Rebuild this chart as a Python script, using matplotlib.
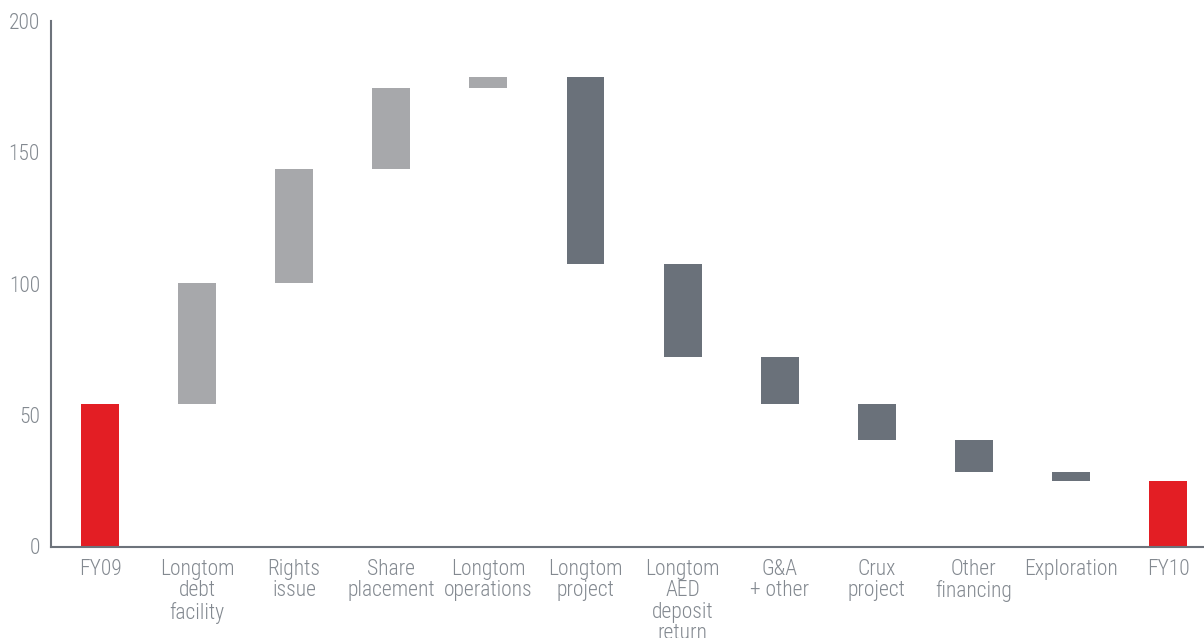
import matplotlib
matplotlib.use("Agg")
import matplotlib.pyplot as plt
from matplotlib import font_manager as fm
import numpy as np

categories = ["FY09", "Longtom\ndebt\nfacility", "Rights\nissue", "Share\nplacement",
              "Longtom\noperations", "Longtom\nproject", "Longtom\nAED\ndeposit\nreturn",
              "G&A\n+ other", "Crux\nproject", "Other\nfinancing", "Exploration", "FY10"]
start_value = 54.2
changes = [46.0, 43.5, 30.8, 4.2, -71.3, -35.2, -17.9, -13.7, -12.4, -3.2]
y_ticks = [0, 50, 100, 150, 200]

names = {f.name for f in fm.fontManager.ttflist}
fam = "DejaVu Sans"
for cand in ["Roboto Condensed", "Open Sans Condensed", "Liberation Sans Narrow", "Liberation Sans"]:
    if cand in names:
        fam = cand
        break
plt.rcParams['font.family'] = [fam, 'DejaVu Sans']
plt.rcParams['font.weight'] = 'light'

RED = "#e31e24"
LIGHT = "#a7a8ab"
DARK = "#6a717a"
TXT = "#838990"

bottoms, heights, colors = [], [], []
bottoms.append(0); heights.append(start_value); colors.append(RED)
level = start_value
for c in changes:
    if c >= 0:
        bottoms.append(level); heights.append(c); colors.append(LIGHT)
    else:
        bottoms.append(level + c); heights.append(-c); colors.append(DARK)
    level += c
bottoms.append(0); heights.append(level); colors.append(RED)

fig = plt.figure(figsize=(12.04, 6.38), dpi=100)
ax = fig.add_axes([51/1204, 1-546.5/638, 1-51/1204, (546.5-21)/638])
x = np.arange(len(categories))
ax.bar(x, heights, bottom=bottoms, color=colors, width=0.39)
ax.set_xlim(-0.505, 11.37)
ax.set_ylim(0, 200)
ax.set_yticks(y_ticks)
ax.set_xticks(x)
ax.set_xticklabels(categories, linespacing=1.03)
for s in ["top", "right"]:
    ax.spines[s].set_visible(False)
for s in ["left", "bottom"]:
    ax.spines[s].set_color("#6d737b")
    ax.spines[s].set_linewidth(1.5)
ax.tick_params(axis="x", length=0, labelsize=15.5, colors=TXT, pad=9)
ax.tick_params(axis="y", length=0, labelsize=15.5, colors=TXT, pad=8)
fig.savefig("out.png", dpi=100)
